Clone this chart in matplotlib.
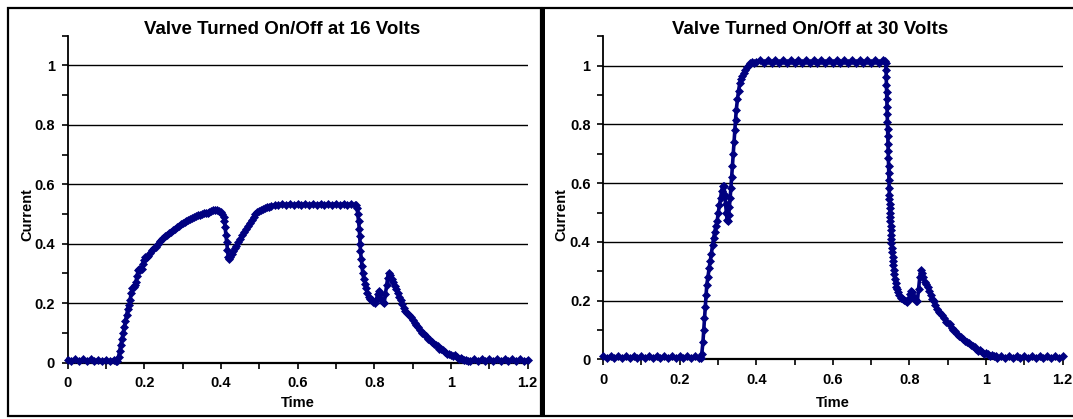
import matplotlib
matplotlib.use("Agg")
import matplotlib.pyplot as plt
from matplotlib.patches import Rectangle
from matplotlib.lines import Line2D
from matplotlib.ticker import MultipleLocator

# ---------------- data ----------------
time_16 = [0.00, 0.01, 0.02, 0.03, 0.04, 0.05, 0.06, 0.07, 0.08, 0.09, 0.10, 0.11, 0.12, 0.125, 0.130,
           0.133, 0.136, 0.139, 0.142, 0.145, 0.148, 0.151, 0.154, 0.157, 0.160, 0.163, 0.166, 0.169,
           0.172, 0.175, 0.178, 0.181, 0.184, 0.187, 0.190, 0.193, 0.196, 0.199, 0.202, 0.206, 0.210,
           0.215, 0.220, 0.225, 0.230, 0.235, 0.240, 0.245, 0.250, 0.255, 0.260, 0.265, 0.270, 0.275,
           0.280, 0.285, 0.290, 0.295, 0.300, 0.305, 0.310, 0.315, 0.320, 0.325, 0.330, 0.335, 0.340,
           0.345, 0.350, 0.355, 0.360, 0.365, 0.370, 0.375, 0.380, 0.385, 0.390, 0.395, 0.400, 0.404,
           0.407, 0.409, 0.411, 0.413, 0.415, 0.417, 0.419, 0.421, 0.424, 0.428, 0.432, 0.436, 0.440,
           0.445, 0.450, 0.455, 0.460, 0.465, 0.470, 0.475, 0.480, 0.485, 0.490, 0.495, 0.500, 0.505,
           0.510, 0.515, 0.520, 0.525, 0.530, 0.540, 0.550, 0.560, 0.570, 0.580, 0.590, 0.600, 0.610,
           0.620, 0.630, 0.640, 0.650, 0.660, 0.670, 0.680, 0.690, 0.700, 0.710, 0.720, 0.730, 0.740,
           0.750, 0.752, 0.755, 0.757, 0.759, 0.761, 0.762, 0.763, 0.764, 0.766, 0.768, 0.770, 0.773,
           0.776, 0.779, 0.782, 0.785, 0.789, 0.793, 0.797, 0.801, 0.805, 0.809, 0.812, 0.815, 0.818,
           0.822, 0.826, 0.829, 0.832, 0.835, 0.838, 0.841, 0.845, 0.849, 0.853, 0.857, 0.861, 0.865,
           0.869, 0.873, 0.877, 0.881, 0.885, 0.890, 0.895, 0.900, 0.905, 0.910, 0.915, 0.920, 0.925,
           0.930, 0.935, 0.940, 0.945, 0.950, 0.955, 0.960, 0.965, 0.970, 0.975, 0.980, 0.985, 0.990,
           0.995, 1.000, 1.005, 1.010, 1.015, 1.020, 1.025, 1.030, 1.035, 1.040, 1.045, 1.050, 1.060,
           1.070, 1.080, 1.090, 1.100, 1.110, 1.120, 1.130, 1.140, 1.150, 1.160, 1.170, 1.180, 1.190,
           1.200]
current_16 = [0.010, 0.004, 0.011, 0.004, 0.011, 0.004, 0.011, 0.004, 0.010, 0.004, 0.010, 0.004, 0.010, 0.005, 0.006,
              0.020, 0.040, 0.060, 0.080, 0.100, 0.120, 0.140, 0.160, 0.180, 0.195, 0.210, 0.235, 0.250,
              0.255, 0.260, 0.270, 0.290, 0.310, 0.315, 0.310, 0.315, 0.330, 0.345, 0.355, 0.355, 0.360,
              0.370, 0.380, 0.385, 0.390, 0.400, 0.410, 0.415, 0.420, 0.425, 0.430, 0.435, 0.440, 0.445,
              0.450, 0.455, 0.460, 0.465, 0.470, 0.473, 0.477, 0.480, 0.483, 0.486, 0.489, 0.492, 0.495,
              0.497, 0.500, 0.502, 0.503, 0.505, 0.507, 0.509, 0.512, 0.515, 0.513, 0.510, 0.507, 0.500,
              0.490, 0.475, 0.455, 0.430, 0.405, 0.380, 0.355, 0.350, 0.355, 0.365, 0.375, 0.385, 0.392,
              0.405, 0.415, 0.428, 0.438, 0.448, 0.460, 0.470, 0.480, 0.490, 0.500, 0.506, 0.511, 0.515,
              0.518, 0.521, 0.523, 0.525, 0.527, 0.530, 0.529, 0.535, 0.530, 0.535, 0.529, 0.535, 0.530,
              0.535, 0.529, 0.535, 0.530, 0.535, 0.529, 0.535, 0.530, 0.535, 0.529, 0.535, 0.530, 0.535,
              0.530, 0.530, 0.520, 0.500, 0.475, 0.450, 0.425, 0.400, 0.375, 0.350, 0.325, 0.300, 0.280,
              0.265, 0.250, 0.235, 0.222, 0.215, 0.212, 0.205, 0.200, 0.210, 0.230, 0.242, 0.235, 0.215,
              0.203, 0.202, 0.230, 0.260, 0.285, 0.300, 0.295, 0.280, 0.270, 0.258, 0.248, 0.235, 0.222,
              0.210, 0.197, 0.185, 0.175, 0.168, 0.160, 0.153, 0.143, 0.132, 0.125, 0.120, 0.108, 0.100,
              0.097, 0.088, 0.080, 0.076, 0.070, 0.062, 0.058, 0.055, 0.047, 0.045, 0.042, 0.035, 0.030,
              0.030, 0.025, 0.022, 0.025, 0.018, 0.013, 0.015, 0.012, 0.008, 0.010, 0.005, 0.006, 0.012,
              0.005, 0.011, 0.004, 0.011, 0.004, 0.011, 0.004, 0.011, 0.004, 0.011, 0.004, 0.011, 0.004,
              0.010]

time_30 = [0.00, 0.01, 0.02, 0.03, 0.04, 0.05, 0.06, 0.07, 0.08, 0.09, 0.10, 0.11, 0.12, 0.13, 0.14,
           0.15, 0.16, 0.17, 0.18, 0.19, 0.20, 0.21, 0.22, 0.23, 0.24, 0.25, 0.255, 0.258, 0.261, 0.263,
           0.265, 0.267, 0.269, 0.271, 0.274, 0.277, 0.280, 0.283, 0.286, 0.289, 0.292, 0.295, 0.298,
           0.301, 0.304, 0.307, 0.310, 0.313, 0.316, 0.318, 0.320, 0.322, 0.324, 0.326, 0.328, 0.330,
           0.332, 0.334, 0.336, 0.338, 0.340, 0.342, 0.344, 0.346, 0.348, 0.351, 0.354, 0.357, 0.360,
           0.364, 0.368, 0.372, 0.376, 0.380, 0.385, 0.390, 0.395, 0.400, 0.410, 0.420, 0.430, 0.440,
           0.450, 0.460, 0.470, 0.480, 0.490, 0.500, 0.510, 0.520, 0.530, 0.540, 0.550, 0.560, 0.570,
           0.580, 0.590, 0.600, 0.610, 0.620, 0.630, 0.640, 0.650, 0.660, 0.670, 0.680, 0.690, 0.700,
           0.710, 0.720, 0.730, 0.735, 0.738, 0.7390, 0.7395, 0.7400, 0.7405, 0.7410, 0.7415, 0.7420,
           0.7425, 0.7430, 0.7435, 0.7440, 0.7445, 0.7450, 0.7455, 0.7460, 0.7465, 0.7470, 0.7475,
           0.7480, 0.7485, 0.7490, 0.7495, 0.7500, 0.7505, 0.7510, 0.7515, 0.7520, 0.7525, 0.7530,
           0.754, 0.755, 0.756, 0.757, 0.758, 0.759, 0.760, 0.762, 0.764, 0.766, 0.768, 0.771, 0.774,
           0.778, 0.782, 0.786, 0.790, 0.794, 0.798, 0.801, 0.804, 0.807, 0.810, 0.814, 0.818, 0.821,
           0.824, 0.827, 0.830, 0.833, 0.836, 0.840, 0.844, 0.848, 0.852, 0.856, 0.860, 0.864, 0.868,
           0.872, 0.876, 0.880, 0.885, 0.890, 0.895, 0.900, 0.905, 0.910, 0.915, 0.920, 0.925, 0.930,
           0.935, 0.940, 0.945, 0.950, 0.955, 0.960, 0.965, 0.970, 0.975, 0.980, 0.985, 0.990, 0.995,
           1.000, 1.005, 1.010, 1.015, 1.020, 1.025, 1.030, 1.040, 1.050, 1.060, 1.070, 1.080, 1.090,
           1.100, 1.110, 1.120, 1.130, 1.140, 1.150, 1.160, 1.170, 1.180, 1.190, 1.200]
current_30 = [0.010, 0.004, 0.011, 0.004, 0.011, 0.004, 0.011, 0.004, 0.011, 0.004, 0.011, 0.004, 0.011, 0.004, 0.011,
              0.004, 0.011, 0.004, 0.011, 0.004, 0.011, 0.004, 0.011, 0.004, 0.011, 0.005, 0.006, 0.020, 0.060, 0.100,
              0.140, 0.180, 0.220, 0.255, 0.280, 0.310, 0.335, 0.360, 0.390, 0.415, 0.435, 0.455, 0.470,
              0.500, 0.525, 0.550, 0.575, 0.592, 0.590, 0.560, 0.530, 0.500, 0.475, 0.470, 0.490, 0.520,
              0.550, 0.585, 0.620, 0.660, 0.700, 0.740, 0.780, 0.815, 0.850, 0.885, 0.915, 0.940, 0.955,
              0.965, 0.975, 0.985, 0.995, 1.002, 1.008, 1.012, 1.008, 1.012, 1.018, 1.008, 1.018, 1.008,
              1.018, 1.008, 1.018, 1.008, 1.018, 1.008, 1.018, 1.008, 1.018, 1.008, 1.018, 1.008, 1.018,
              1.008, 1.018, 1.008, 1.018, 1.008, 1.018, 1.008, 1.018, 1.008, 1.018, 1.008, 1.018, 1.008,
              1.018, 1.008, 1.018, 1.015, 1.010, 0.985, 0.960, 0.935, 0.910, 0.885, 0.860, 0.835,
              0.810, 0.785, 0.760, 0.735, 0.710, 0.685, 0.660, 0.635, 0.610, 0.585, 0.560,
              0.545, 0.530, 0.515, 0.500, 0.485, 0.470, 0.455, 0.440, 0.425, 0.410, 0.395,
              0.380, 0.365, 0.350, 0.335, 0.320, 0.305, 0.290, 0.275, 0.260, 0.248, 0.238, 0.228, 0.218,
              0.208, 0.205, 0.203, 0.198, 0.196, 0.205, 0.222, 0.232, 0.228, 0.215, 0.205, 0.198, 0.200,
              0.240, 0.280, 0.305, 0.295, 0.280, 0.265, 0.258, 0.245, 0.232, 0.220, 0.205, 0.198, 0.185,
              0.172, 0.162, 0.158, 0.152, 0.140, 0.128, 0.124, 0.120, 0.108, 0.100, 0.098, 0.088, 0.080,
              0.077, 0.070, 0.062, 0.060, 0.055, 0.048, 0.045, 0.042, 0.035, 0.030, 0.033, 0.025, 0.020,
              0.022, 0.018, 0.013, 0.015, 0.010, 0.012, 0.006, 0.010, 0.004, 0.011, 0.004, 0.011, 0.004,
              0.011, 0.004, 0.011, 0.004, 0.011, 0.004, 0.011, 0.004, 0.011, 0.004, 0.010]

titles = ["Valve Turned On/Off at 16 Volts", "Valve Turned On/Off at 30 Volts"]
x_label = "Time"
y_label = "Current"
x_ticks = [0, 0.2, 0.4, 0.6, 0.8, 1.0, 1.2]
x_tick_labels = ["0", "0.2", "0.4", "0.6", "0.8", "1", "1.2"]
y_ticks = [0, 0.2, 0.4, 0.6, 0.8, 1.0]
y_tick_labels = ["0", "0.2", "0.4", "0.6", "0.8", "1"]

# ---------------- layout ----------------
W, H = 1073, 419
plt.rcParams['font.family'] = ['Liberation Sans', 'DejaVu Sans']
fig = plt.figure(figsize=(W / 100, H / 100), dpi=100)
fig.patch.set_facecolor('white')

def fx(px):
    return px / W

def fy(py):
    return 1 - py / H

NAVY = '#000080'

panels = [
    dict(t=time_16, v=current_16, x0=67.6, x1=527.6, y0=362.5, y1=65.5,
         title_x=282.5, ylab_x=27),
    dict(t=time_30, v=current_30, x0=603.0, x1=1062.6, y0=359.4, y1=65.7,
         title_x=810.0, ylab_x=561),
]

for i, p in enumerate(panels):
    ytop = p['y0'] - 1.1 * (p['y0'] - p['y1'])
    ax = fig.add_axes([fx(p['x0']), fy(p['y0']), fx(p['x1'] - p['x0']), (p['y0'] - ytop) / H])
    ax.set_xlim(0, 1.2)
    ax.set_ylim(0, 1.1)
    for s in ['top', 'right']:
        ax.spines[s].set_visible(False)
    ax.spines['left'].set_linewidth(1.3)
    ax.spines['bottom'].set_linewidth(1.6)
    ax.spines['left'].set_color('black')
    ax.spines['bottom'].set_color('black')

    ax.set_xticks(x_ticks)
    ax.set_xticklabels(x_tick_labels)
    ax.set_yticks(y_ticks)
    ax.set_yticklabels(y_tick_labels)
    ax.xaxis.set_minor_locator(MultipleLocator(0.1))
    ax.yaxis.set_minor_locator(MultipleLocator(0.1))
    ax.tick_params(axis='both', which='both', direction='out', length=4, width=1.2, color='black')
    ax.tick_params(axis='x', which='major', pad=6, labelsize=10.5)
    ax.tick_params(axis='y', which='major', pad=5, labelsize=10.5)
    for lab in ax.get_xticklabels() + ax.get_yticklabels():
        lab.set_fontweight('bold')

    for yv in y_ticks[1:]:
        ax.axhline(yv, color='black', lw=1.0, zorder=1)

    ax.plot(p['t'], p['v'], color=NAVY, lw=2.6, marker='D', markersize=4.0,
            markeredgewidth=0.5, markeredgecolor=NAVY, markerfacecolor=NAVY,
            zorder=3, clip_on=False)

    fig.text(fx((p['x0'] + p['x1']) / 2), fy(403), x_label, ha='center', va='center',
             fontsize=10.5, fontweight='bold')
    fig.text(fx(p['ylab_x']), fy(215), y_label, rotation=90, ha='center', va='center',
             fontsize=10.5, fontweight='bold')
    fig.text(fx(p['title_x']), fy(30), titles[i], ha='center', va='center',
             fontsize=13.5, fontweight='bold')

# panel borders
fig.add_artist(Rectangle((fx(8), fy(416)), fx(533), (416 - 8) / H, fill=False,
                         edgecolor='black', lw=1.6, transform=fig.transFigure))
for yy in (8, 416):
    fig.add_artist(Line2D([fx(543), 1.0], [fy(yy), fy(yy)], color='black', lw=1.6,
                          transform=fig.transFigure))
fig.add_artist(Rectangle((fx(540.5), fy(416)), fx(4), (416 - 8) / H, fill=True,
                         facecolor='black', edgecolor='none', transform=fig.transFigure))

fig.savefig('out.png', dpi=100, facecolor='white')
